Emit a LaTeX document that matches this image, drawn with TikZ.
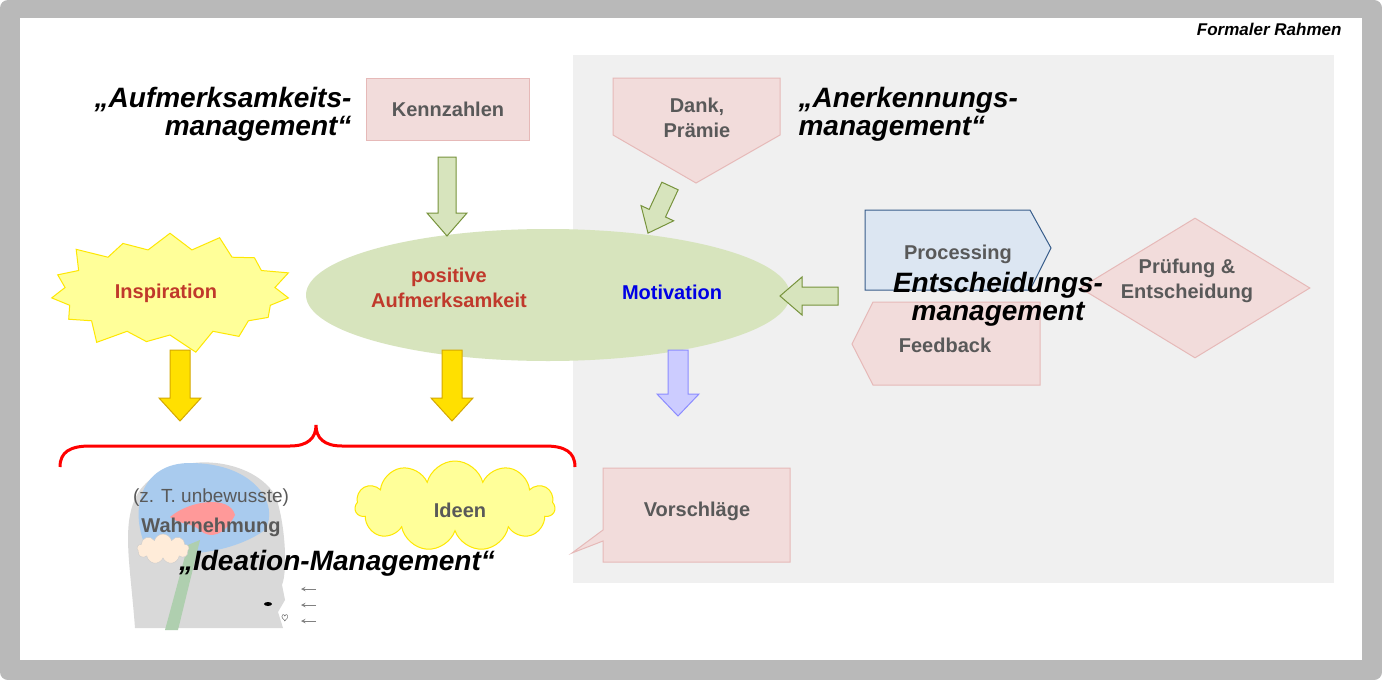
\documentclass[tikz,border=0pt]{standalone}
\usepackage{fontspec}
\setmainfont{Liberation Sans}
\usetikzlibrary{shapes.symbols,shapes.geometric,shapes.callouts}
\definecolor{pinkf}{HTML}{F2DCDB}\definecolor{pinkd}{HTML}{E6B9B8}
\definecolor{grnf}{HTML}{D7E4BD}\definecolor{grnd}{HTML}{77933C}
\definecolor{bluef}{HTML}{DCE6F2}\definecolor{blued}{HTML}{385D8A}
\definecolor{lab}{HTML}{595959}\definecolor{orng}{HTML}{C0392B}
\definecolor{brain}{HTML}{A9CBEE}
\definecolor{yelf}{HTML}{FFFF99}\definecolor{gold}{HTML}{FFE000}\definecolor{goldd}{HTML}{D4A800}
\tikzset{
 lbl/.style={font=\bfseries\fontsize{20}{25}\selectfont,text=lab,align=center},
 ttl/.style={font=\bfseries\itshape\fontsize{28}{28}\selectfont,text=black},
 pinkbox/.style={fill=pinkf,draw=pinkd,line width=1pt},
 garrow/.style={fill=grnf,draw=grnd,line width=1pt},
}
\begin{document}
\begin{tikzpicture}[x=1pt,y=-1pt]
\useasboundingbox (0,0) rectangle (1382,680);
\fill[gray!55,rounded corners=8pt] (0,0) rectangle (1382,680);
\fill[white] (20,18) rectangle (1362,660);
\fill[gray!12] (573,55) rectangle (1334,583);
\node[anchor=east,font=\bfseries\itshape\fontsize{17}{17}\selectfont] (fr) at (1345,29) {Formaler Rahmen};
% ellipse
\node[ellipse,fill=grnf,minimum width=484pt,minimum height=132pt] (ell) at (548,295) {};
\node[lbl,text=orng] (pa) at (449,288) {positive\\Aufmerksamkeit};
\node[lbl,text=blue!90!black] (mo) at (672,292) {Motivation};
% Kennzahlen
\node[pinkbox,lbl,minimum width=163pt,minimum height=62pt] (kz) at (448,109) {Kennzahlen};
% Dank
\draw[pinkbox] (613,78) -- (780,78) -- (780,135) -- (696,183) -- (613,135) -- cycle;
\node[lbl] (dk) at (697,118) {Dank,\\Prämie};
% green arrows
\draw[garrow] (438,157) -- (456,157) -- (456,213) -- (467,213) -- (447,236) -- (427,213) -- (438,213) -- cycle;
\draw[garrow,shift={(670,186)},rotate=-25] (-9,0) -- (9,0) -- (9,30) -- (18,30) -- (0,52) -- (-18,30) -- (-9,30) -- cycle;
\draw[garrow] (838,287) -- (802,287) -- (802,277) -- (780,296) -- (802,315) -- (802,305) -- (838,305) -- cycle;
% Inspiration
\node[starburst,fill=yelf,draw=yellow!90!orange,line width=1pt,minimum width=255pt,minimum height=130pt,starburst points=15,starburst point height=22pt] (ins) at (170,292) {};
\node[lbl,text=orng] (it) at (166,293) {Inspiration};
% processing / feedback / diamond
\draw[fill=bluef,draw=blued,line width=1pt] (865,210) -- (1030,210) -- (1051,248) -- (1030,290) -- (865,290) -- cycle;
\draw[pinkbox] (873,302) -- (1040,302) -- (1040,385) -- (873,385) -- (852,344) -- cycle;
\node[diamond,pinkbox,minimum width=230pt,minimum height=140pt,inner sep=0pt] (pr) at (1195,288) {};
\node[lbl] (pt) at (958,254) {Processing};
\node[lbl] (fb) at (945,345) {Feedback};
\node[lbl] (ptx) at (1187,281) {Prüfung \&\\Entscheidung};
% down arrows
\draw[fill=gold,draw=goldd,line width=1pt] (170,350) -- (190,350) -- (190,398) -- (201,398) -- (180,421) -- (159,398) -- (170,398) -- cycle;
\draw[fill=gold,draw=goldd,line width=1pt] (442,350) -- (462,350) -- (462,398) -- (473,398) -- (452,421) -- (431,398) -- (442,398) -- cycle;
\draw[fill=blue!20,draw=blue!45,line width=1pt] (668,350) -- (688,350) -- (688,394) -- (699,394) -- (678,416) -- (657,394) -- (668,394) -- cycle;
% brace
\draw[red,line width=3pt] (60,467) .. controls (60,452) and (70,446) .. (90,446) -- (290,446) .. controls (308,446) and (316,438) .. (316,425) .. controls (316,438) and (324,446) .. (342,446) -- (545,446) .. controls (565,446) and (575,452) .. (575,467);
% head
\fill[gray!30] (135,628) .. controls (130,560) and (120,520) .. (140,490) .. controls (170,450) and (250,455) .. (275,495) .. controls (285,520) and (288,570) .. (282,585) -- (285,600) -- (278,612) -- (283,628) -- cycle;
\fill[brain] (190,463) .. controls (140,463) and (130,510) .. (145,545) .. controls (170,560) and (230,555) .. (265,530) .. controls (280,505) and (255,463) .. (190,463);
\fill[red!40] (170,517) .. controls (190,500) and (230,495) .. (235,515) .. controls (225,535) and (210,540) .. (200,530) .. controls (190,522) and (180,525) .. (170,517);
\fill[green!25!gray!50] (188,545) -- (200,540) -- (178,630) -- (165,630) -- cycle;
\node[cloud,cloud puffs=9,fill=orange!15,draw=gray!40,minimum width=52pt,minimum height=30pt] (bc) at (163,549) {};
\fill (268,604) ellipse (4 and 2);
\node[font=\small] (ey) at (285,619) {$\heartsuit$};
\foreach \yy in {589,605,621}{\draw[gray,line width=1pt,-stealth] (316,\yy) -- (301,\yy);}
\node[font=\fontsize{19}{19}\selectfont,text=lab] (zt) at (211,498) {(z. T. unbewusste)};
\node[lbl] (wn) at (211,527) {Wahrnehmung};
% Ideen
\node[cloud,cloud puffs=11,fill=yelf,draw=yellow!90!orange,line width=1pt,minimum width=200pt,minimum height=90pt] (id) at (455,506) {};
\node[lbl] (idt) at (460,510) {Ideen};
% Vorschlaege
\draw[pinkbox] (603,468) -- (790,468) -- (790,562) -- (603,562) -- (603,541) -- (572,553) -- (603,530) -- cycle;
\node[lbl] (vs) at (697,511) {Vorschläge};
% titles
\node[ttl,anchor=east,align=right] (t1) at (355,114) {„Aufmerksamkeits-\\management“};
\node[ttl,anchor=west,align=left] (t2) at (795,114) {„Anerkennungs-\\management“};
\node[ttl,align=center] (t3) at (998,299) {Entscheidungs-\\management};
\node[ttl] (t4) at (337,563) {„Ideation-Management“};
\end{tikzpicture}
\end{document}
